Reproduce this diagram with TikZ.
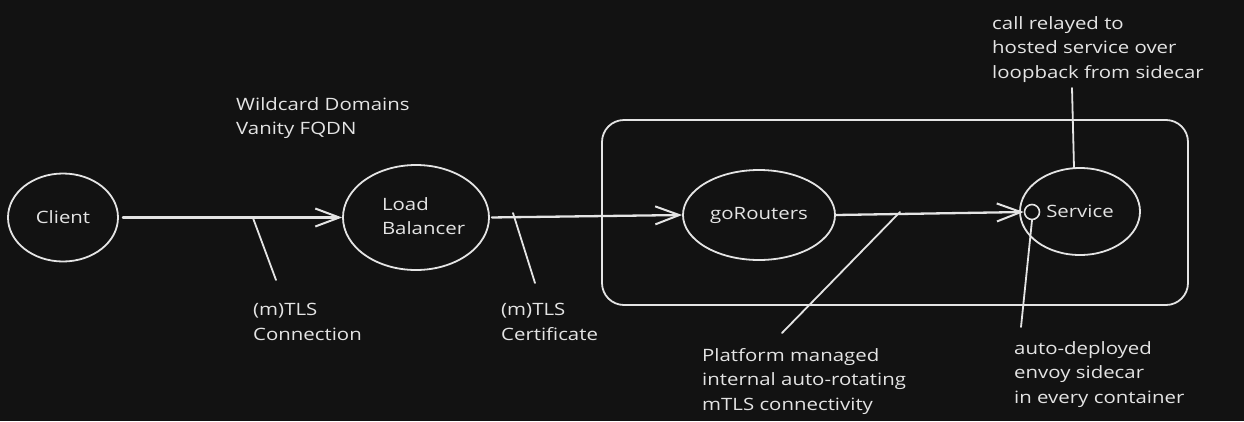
\documentclass[tikz,border=0pt]{standalone}
\usepackage{fontspec}
\setmainfont{Open Sans}[FakeStretch=1.2]
\usetikzlibrary{arrows.meta,shapes.geometric}
\definecolor{bg}{HTML}{121212}
\definecolor{ink}{HTML}{E4E4E4}
\begin{document}
\begin{tikzpicture}[x=1pt,y=-1pt,
  txt/.style={text=ink, font=\fontsize{17}{24.5}\selectfont, inner sep=0pt, align=left, anchor=north west},
  oval/.style={draw=ink, line width=1.8pt, ellipse, inner sep=0pt, text=ink, font=\fontsize{17}{24.5}\selectfont},
  conn/.style={draw=ink, line width=2.3pt, line cap=round, -{Straight Barb[length=24pt,width=18pt,line width=2pt]}},
  lead/.style={draw=ink, line width=1.8pt, line cap=round},
  box/.style={draw=ink, line width=1.8pt, rounded corners=22pt, inner sep=0pt}
]
\fill[bg] (0,0) rectangle (1244,421);
\useasboundingbox (0,0) rectangle (1244,421);

% container
\node[box, minimum width=586pt, minimum height=185pt] (cont) at (895,212.5) {};

% nodes
\node[oval, minimum width=110pt, minimum height=88pt] (client) at (63,217.5) {Client};
\node[oval, minimum width=146pt, minimum height=105pt] (lb) at (416,217.5) {\makebox[0pt][l]{\hspace*{-34pt}\begin{tabular}{@{}l@{}}Load\\Balancer\end{tabular}}};
\node[oval, minimum width=152pt, minimum height=90pt] (gor) at (759,215) {goRouters};
\node[oval, minimum width=120pt, minimum height=87pt] (svc) at (1080,211.5) {Service};
\node[draw=ink, line width=1.6pt, circle, minimum size=15pt, inner sep=0pt] (side) at (1032,212) {};

% connectors
\draw[conn, shorten <=4pt] (client.east) -- (lb.west);
\draw[conn, shorten <=2pt] (lb.east) -- (gor.west);
\draw[conn] (gor.east) -- (side.west);

% leader lines
\coordinate (t1a) at (253,218);
\coordinate (t1b) at (276,280);
\draw[lead] (t1a) -- (t1b);
\coordinate (t2a) at (513,213);
\coordinate (t2b) at (535,283);
\draw[lead] (t2a) -- (t2b);
\coordinate (t3a) at (900,212);
\coordinate (t3b) at (782,333);
\draw[lead] (t3a) -- (t3b);
\coordinate (t4b) at (1021,327);
\draw[lead] (side.south) -- (t4b);
\coordinate (t5a) at (1074,168);
\coordinate (t5b) at (1072,88);
\draw[lead] (t5a) -- (t5b);

% labels
\node[txt] (wild) at (236,97) {Wildcard Domains\\Vanity FQDN};
\node[txt] (lab1) at (253,303) {(m)TLS\\Connection};
\node[txt] (lab2) at (501,303) {(m)TLS\\Certificate};
\node[txt] (lab3) at (702,348) {Platform managed\\internal auto-rotating\\mTLS connectivity};
\node[txt] (lab4) at (1014,341) {auto-deployed\\envoy sidecar\\in every container};
\node[txt] (lab5) at (992,16) {call relayed to\\hosted service over\\loopback from sidecar};
\end{tikzpicture}
\end{document}
